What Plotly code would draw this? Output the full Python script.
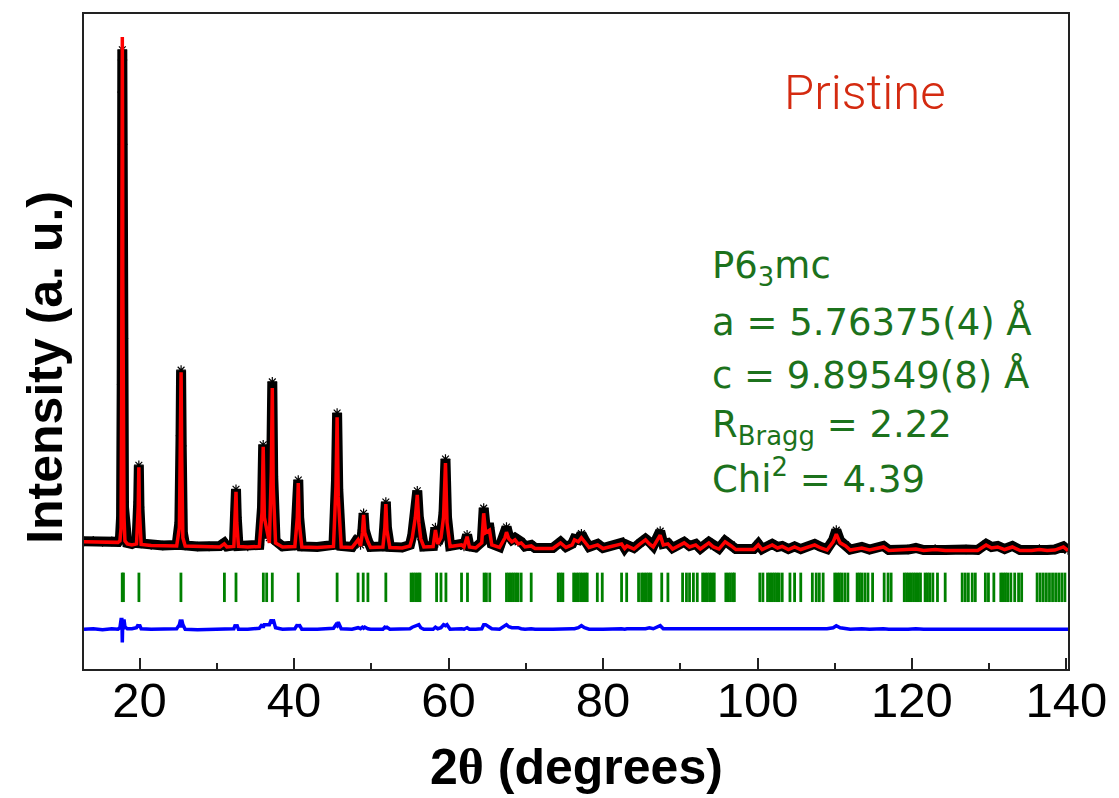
import plotly.graph_objects as go

# ---------------- data ----------------
# 2theta positions of the profile points (degrees)
two_theta = [
    12.8, 14.0, 15.2, 16.4, 17.2, 17.45, 17.6, 17.68, 17.70, 17.72, 17.74, 17.76, 17.78, 17.80, 17.82, 17.84, 17.90, 17.98, 18.1, 18.4, 19.0,
    19.6, 19.82, 19.90, 19.98, 20.2, 21.5, 23.0, 24.8, 25.15, 25.30, 25.37, 25.45, 25.6, 25.9, 27.5, 29.0, 30.4,
    30.96, 31.3, 32.2, 32.40, 32.48, 32.58, 32.8, 34.0, 35.5, 35.85, 36.0, 36.15, 36.45, 36.8, 37.05, 37.18, 37.3, 37.6, 38.5, 40.1, 40.42, 40.54, 40.66, 41.0,
    43.0, 45.1, 45.42, 45.57, 45.72, 46.1, 47.5, 48.28, 48.6, 48.85, 49.0, 49.15, 49.56, 49.9, 51.5, 51.75, 51.88, 52.02, 52.4,
    54.0, 55.0, 55.3, 55.7, 55.95, 56.15, 56.4, 56.8, 58.0, 58.3, 58.6, 59.02, 59.35, 59.6, 59.8, 60.2, 61.68, 62.0, 62.4, 62.7, 63.5,
    64.3, 64.55, 64.8, 65.3, 65.6, 66.6, 67.3, 67.5, 67.8, 68.2, 68.6, 69.0, 69.4, 69.9, 70.7, 71.2, 73.5, 74.5, 75.2, 76.0, 76.3, 76.8, 77.2, 77.6, 78.2, 79.3, 80.0,
    82.4, 82.8, 83.1, 84.0, 84.8, 85.5, 86.0, 86.5, 87.4, 87.8, 88.4, 89.0, 90.5, 91.2, 92.0, 92.6, 93.7, 94.3, 95.0, 95.8, 96.6, 97.2, 99.5,
    100.1, 100.6, 101.9, 102.6, 103.2, 104.0, 104.8, 105.6, 107.4, 108.2, 109.0, 109.8, 110.2, 110.7, 111.4, 112.0, 113.5, 114.5, 116.3, 117.0,
    119.5, 120.5, 121.5, 123.0, 124.3, 127.0, 128.5, 129.6, 130.3, 131.1, 132.0, 133.0, 134.0, 135.5, 136.5, 137.5, 138.5, 139.6, 140.2,
]

# calculated (Rietveld) intensity, a.u.
y_calc = [
    12, 12, 12, 11, 11, 14, 40, 300, 420, 640, 900, 1000, 940, 780, 540, 420, 400, 60, 14, 8, 6,
    8, 80, 158, 70, 7, 5, 4, 4, 40, 200, 344, 180, 20, 4, 3, 2, 2,
    8, 2, 3, 60, 110, 50, 3, 2, 3, 70, 198, 60, 40, 10, 150, 313, 120, 10, 2, 3, 60, 127, 50, 2,
    1, 3, 120, 256, 100, 2, 1, 16, 4, 30, 65, 30, 12, 1, 2, 40, 86, 35, 1,
    0, 4, 20, 60, 104, 50, 18, 2, 3, 35, 8, 20, 60, 166, 50, 3, 6, 2, 22, 2, 0,
    10, 68, 30, 35, 6, 1, 20, 31, 18, 12, 16, 8, 10, 2, 4, -1, -1, 10, 1, 6, 16, 12, 20, 12, 1, 6, -1,
    8, -1, 4, -2, 8, 16, 8, 2, 25, 6, 8, -2, 10, 2, 6, -2, 10, 2, -2, 12, 4, -3, -3,
    6, -3, 6, 0, 3, -3, 2, -3, 6, 0, -4, 12, 27, 10, 4, -4, 0, -4, 2, -5,
    -4, -2, -5, -3, -5, -4, -5, 6, 0, 2, -3, 2, -5, -5, -3, -5, -4, 2, -5,
]

# observed intensity, a.u.
y_obs = [
    13, 14, 12, 13, 12, 18, 60, 320, 440, 650, 892, 975, 955, 790, 560, 420, 410, 80, 20, 10, 8,
    12, 90, 162, 80, 9, 6, 5, 6, 50, 220, 348, 200, 30, 5, 3, 3, 4,
    10, 3, 5, 70, 115, 60, 4, 3, 6, 80, 202, 70, 50, 20, 170, 325, 140, 14, 3, 5, 70, 133, 60, 3,
    2, 6, 130, 264, 115, 4, 2, 20, 6, 35, 68, 35, 14, 2, 3, 45, 90, 40, 2,
    1, 6, 25, 68, 112, 60, 22, 3, 4, 40, 10, 24, 70, 174, 60, 4, 8, 3, 26, 3, 1,
    12, 78, 40, 40, 8, 2, 28, 41, 24, 16, 20, 12, 12, 3, 6, 0, 0, 12, 2, 8, 18, 16, 28, 16, 2, 8, 0,
    10, 0, 6, 0, 10, 18, 12, 4, 33, 8, 10, 0, 12, 4, 8, -1, 12, 4, -1, 14, 6, -2, -2,
    8, -2, 8, 2, 4, -2, 3, -2, 8, 2, -2, 16, 35, 14, 6, -3, 2, -3, 4, -4,
    -3, 0, -4, -2, -4, -3, -4, 8, 2, 4, -2, 4, -4, -4, -2, -4, -3, 3, -4,
]

# Bragg reflection positions (degrees)
bragg_pos = [
    17.75, 17.91, 19.91, 25.35, 30.98, 32.48, 36.02, 36.45, 37.18, 40.54, 45.57, 48.28, 48.95, 49.56, 51.88,
    55.15, 55.45, 55.75, 56.05, 56.3, 58.45, 59.02, 59.66, 61.68, 62.45, 64.6, 64.9, 65.33,
    67.5, 67.8, 68.1, 68.4, 68.7, 69.0, 69.4, 70.7, 74.2, 74.5, 74.8,
    76.2, 76.5, 76.8, 77.1, 77.4, 77.7, 77.95, 79.26, 79.9, 82.4, 83.06,
    84.6, 85.0, 85.3, 85.6, 85.9, 86.2, 87.6, 88.4, 90.3, 90.8, 91.2, 91.7, 92.2,
    92.9, 93.2, 93.5, 93.8, 94.1, 94.4, 95.9, 96.2, 96.5, 96.8, 97.0,
    100.3, 100.7, 101.3, 101.6, 101.9, 102.2, 102.5, 102.8, 103.2, 104.2, 104.8, 105.6,
    107.1, 107.6, 108.0, 108.5, 110.0, 110.3, 110.6, 110.9, 111.3, 111.7,
    112.9, 113.2, 113.5, 113.9, 114.3, 114.9, 116.4, 116.9, 117.3,
    119.0, 119.3, 119.6, 119.9, 120.2, 120.5, 120.8, 121.1, 121.7, 122.0, 122.3, 122.7, 123.3, 124.3,
    126.5, 126.9, 127.3, 127.8, 128.2, 129.5, 129.9, 130.6,
    131.5, 131.8, 132.1, 132.4, 132.8, 133.3, 133.8, 134.2,
    136.2, 136.6, 137.0, 137.4, 137.8, 138.2, 138.6, 139.0, 139.4, 139.8,
]

bragg_level = -77      # vertical position of the reflection markers
diff_offset = -160     # vertical offset of the difference curve

x_ticks = [20, 40, 60, 80, 100, 120, 140]
x_minor = [30, 50, 70, 90, 110, 130]

info_lines = [
    "P6<sub>3</sub>mc",
    "a = 5.76375(4) Å",
    "c = 9.89549(8) Å",
    "R<sub>Bragg</sub> = 2.22",
    "Chi<sup>2</sup> = 4.39",
]
info_y = [0.612, 0.530, 0.449, 0.3695, 0.294]

y_diff = [o - c + diff_offset for o, c in zip(y_obs, y_calc)]

# ---------------- figure ----------------
fig = go.Figure()

fig.add_trace(go.Scatter(
    x=two_theta, y=y_obs, mode="lines+markers", name="Observed",
    line=dict(color="black", width=10),
    marker=dict(symbol="asterisk-open", size=8, color="black", line=dict(color="black", width=1.2)),
))
fig.add_trace(go.Scatter(
    x=two_theta, y=y_calc, mode="lines", name="Calculated",
    line=dict(color="#ff0000", width=3.5),
))
fig.add_trace(go.Scatter(
    x=two_theta, y=y_diff, mode="lines", name="Difference",
    line=dict(color="#0000ff", width=3.5),
))
fig.add_trace(go.Scatter(
    x=bragg_pos, y=[bragg_level] * len(bragg_pos), mode="markers", name="Bragg",
    marker=dict(symbol="line-ns", size=21, color="#008000", line=dict(color="#008000", width=2.8)),
))

axis_col = "#222222"
fig.update_xaxes(
    range=[12.8, 140.2], tickvals=x_ticks, ticktext=[str(v) for v in x_ticks],
    ticks="inside", ticklen=11, tickwidth=2, tickcolor=axis_col,
    ticklabelstandoff=-13,
    minor=dict(tickvals=x_minor, ticks="inside", ticklen=6, tickwidth=2, tickcolor=axis_col),
    showline=True, linewidth=2, linecolor=axis_col, mirror=True,
    showgrid=False, zeroline=False,
    tickfont=dict(family="Liberation Sans, Arial, sans-serif", size=49, color="black"),
)
fig.update_yaxes(
    range=[-236.8, 1045], showticklabels=False, ticks="",
    showline=True, linewidth=2, linecolor=axis_col, mirror=True,
    showgrid=False, zeroline=False,
)

annotations = [
    dict(text='<b>2<span style="font-family:Liberation Serif">θ</span> (degrees)</b>',
         xref="paper", yref="paper", x=0.5, y=-0.149, xanchor="center", yanchor="middle",
         showarrow=False, font=dict(family="Liberation Sans, Arial, sans-serif", size=50, color="black")),
    dict(text="<b>Intensity (a. u.)</b>", textangle=-90,
         xref="paper", yref="paper", x=-0.0395, y=0.46, xanchor="center", yanchor="middle",
         showarrow=False, font=dict(family="Liberation Sans, Arial, sans-serif", size=50, color="black")),
    dict(text="Pristine", xref="paper", yref="paper", x=0.7935, y=0.880,
         xanchor="center", yanchor="middle", showarrow=False,
         font=dict(family="Roboto, Lato, sans-serif", size=49, weight=300, color="#d42a10")),
]
for txt, yy in zip(info_lines, info_y):
    annotations.append(dict(
        text=txt, xref="paper", yref="paper", x=0.6366, y=yy,
        xanchor="left", yanchor="middle", showarrow=False, align="left",
        font=dict(family="DejaVu Sans, sans-serif", size=37, color="#1c721c"),
    ))

fig.update_layout(
    width=1119, height=798, autosize=False,
    margin=dict(l=84, r=47, t=14, b=129),
    paper_bgcolor="white", plot_bgcolor="white",
    showlegend=False,
    annotations=annotations,
)

fig.write_html("out.html")
